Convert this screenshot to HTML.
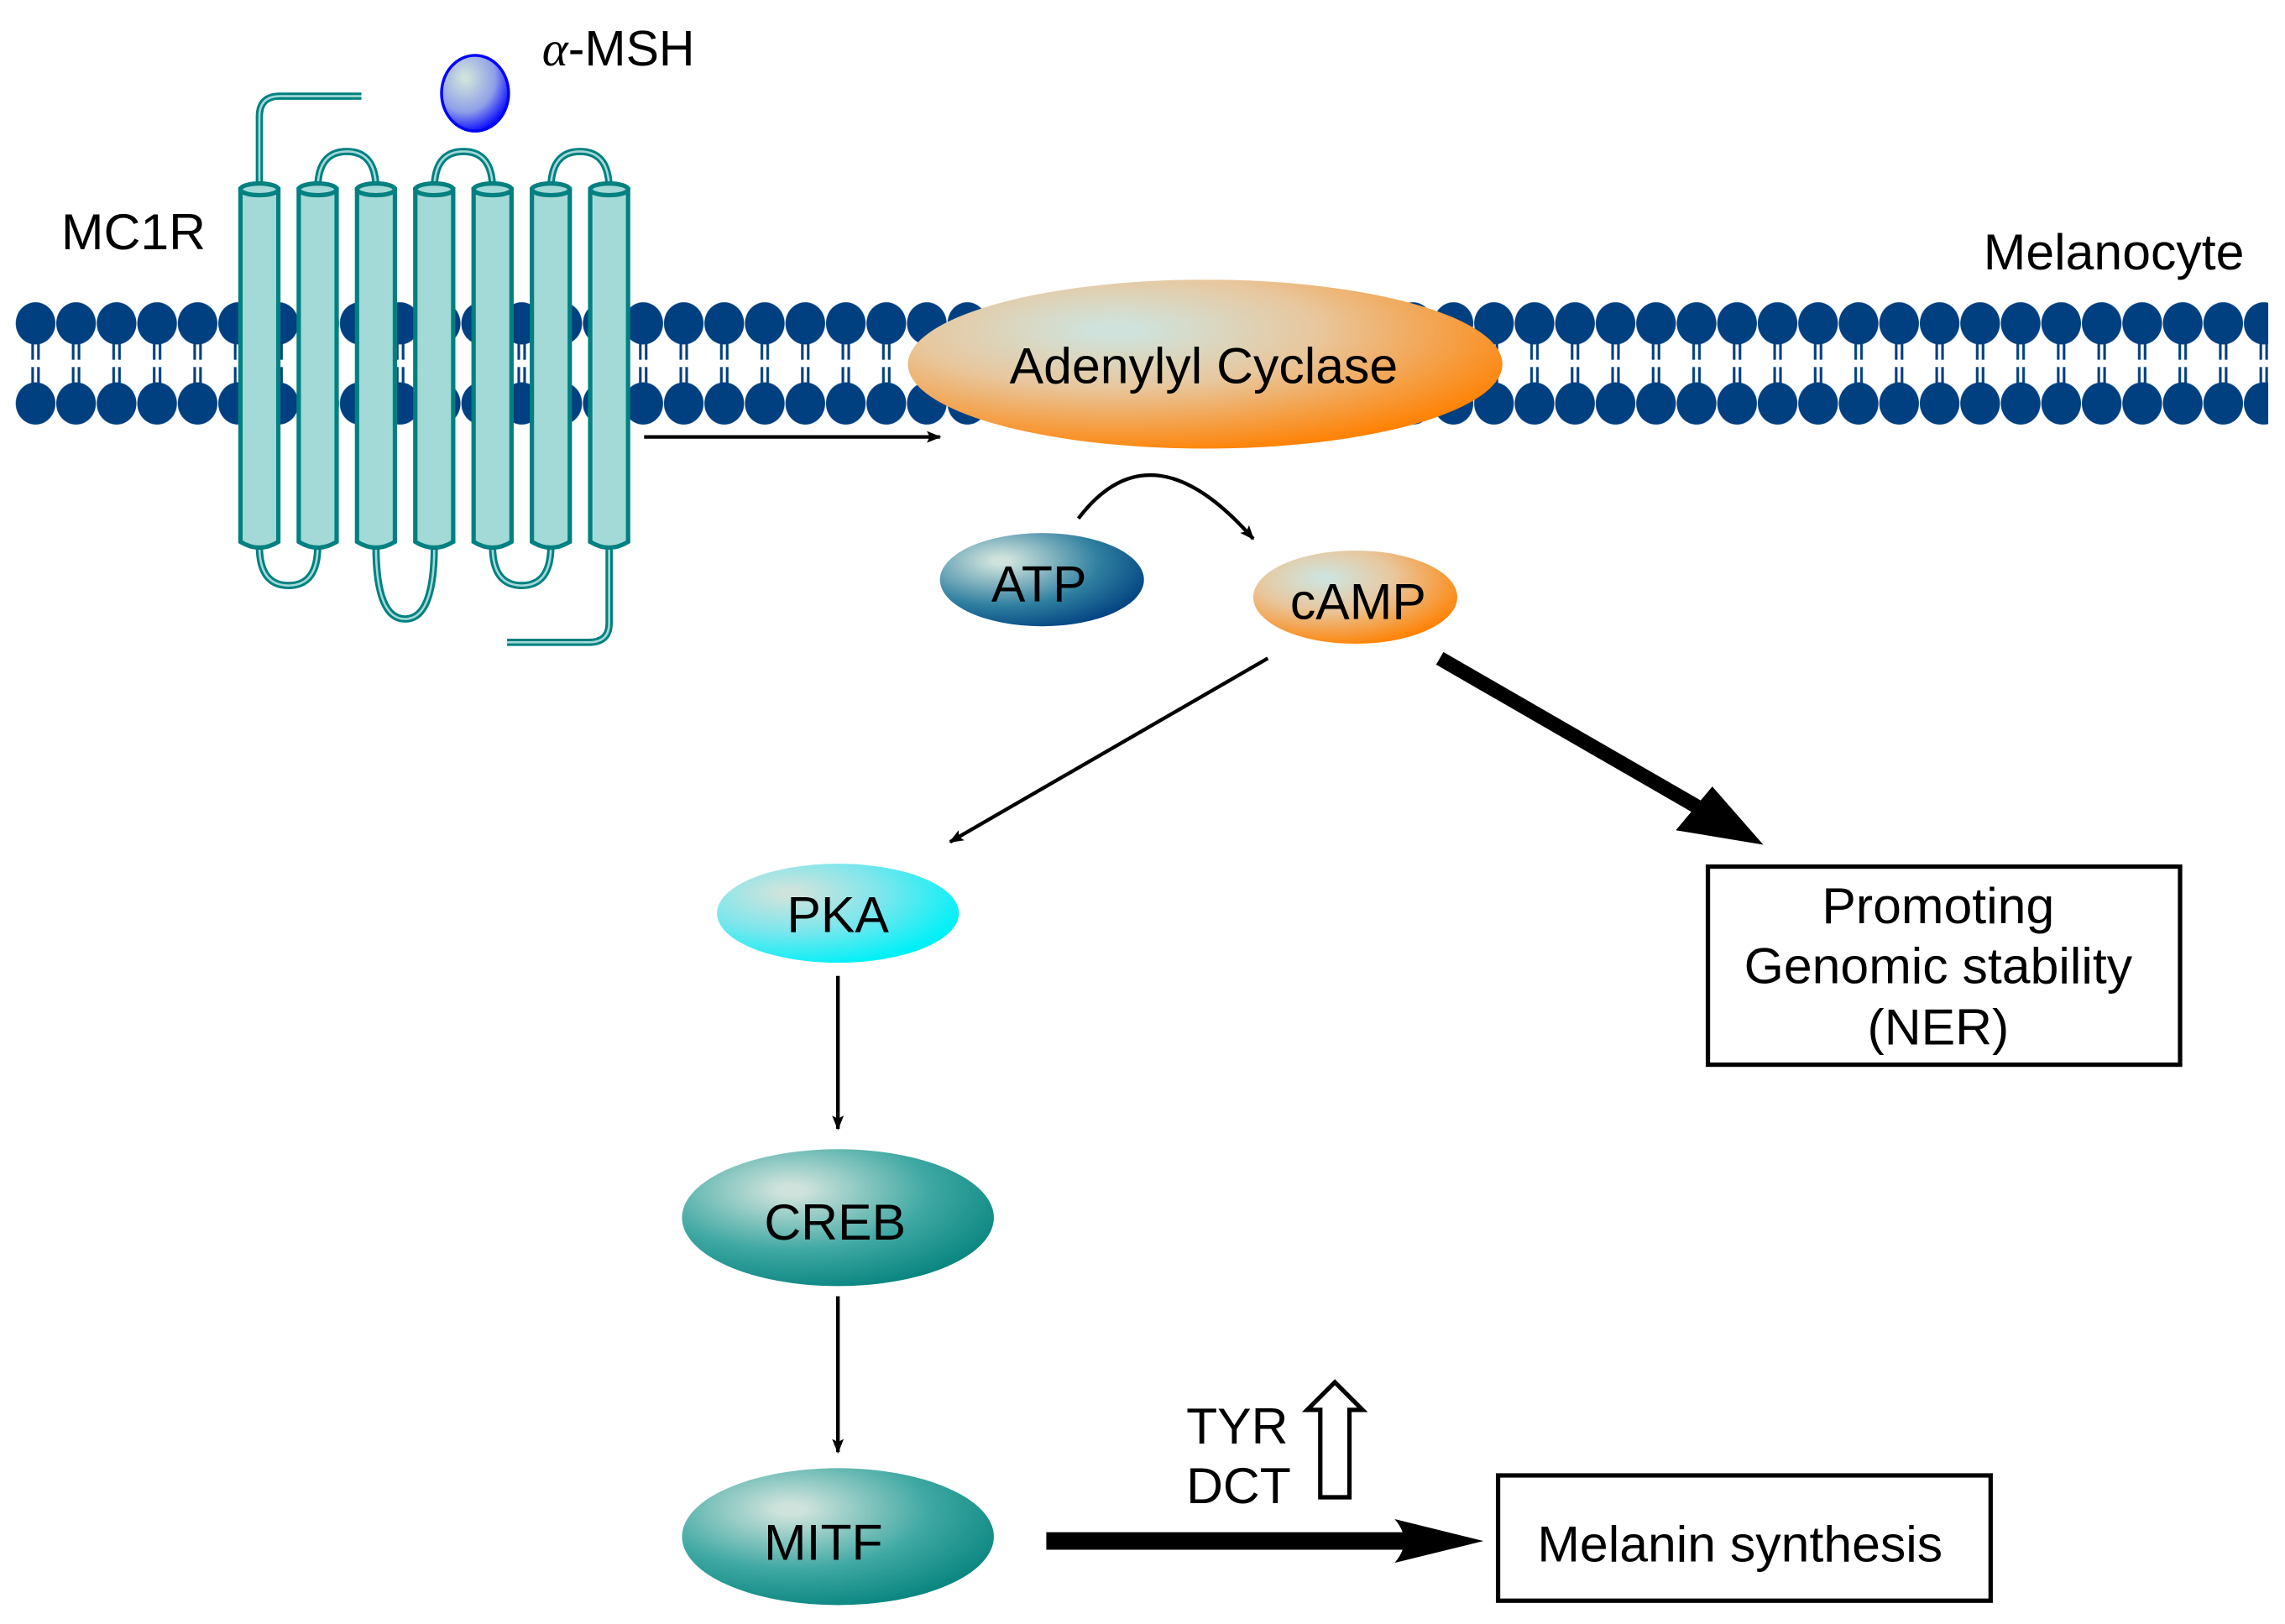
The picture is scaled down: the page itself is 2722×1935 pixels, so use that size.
<!DOCTYPE html>
<html><head><meta charset="utf-8"><style>html,body{margin:0;padding:0;background:#fff}svg{display:block}text{font-family:"Liberation Sans",Arial,sans-serif;fill:#000}</style></head>
<body>
<svg width="2722" height="1935" viewBox="0 0 1568 1115" preserveAspectRatio="none" xmlns="http://www.w3.org/2000/svg">
<defs>
<radialGradient id="og" cx="0.35" cy="0.3" r="0.75"><stop offset="0.05" stop-color="#cfe3dc"/><stop offset="0.45" stop-color="#e8c79e"/><stop offset="1" stop-color="#ff8000"/></radialGradient>
<radialGradient id="bg" cx="0.3" cy="0.3" r="0.8"><stop offset="0.05" stop-color="#cfe3dc"/><stop offset="0.6" stop-color="#2f7fa0"/><stop offset="1" stop-color="#003f80"/></radialGradient>
<radialGradient id="tg" cx="0.35" cy="0.3" r="0.8"><stop offset="0.05" stop-color="#cfe3dc"/><stop offset="0.55" stop-color="#3fa8a3"/><stop offset="1" stop-color="#007f7a"/></radialGradient>
<radialGradient id="cg" cx="0.3" cy="0.3" r="0.75"><stop offset="0.05" stop-color="#cfe3dc"/><stop offset="0.5" stop-color="#7ee6ec"/><stop offset="1" stop-color="#00f0f8"/></radialGradient>
<radialGradient id="mg" cx="0.35" cy="0.3" r="0.75"><stop offset="0.05" stop-color="#cfe3dc"/><stop offset="0.6" stop-color="#8f9fe8"/><stop offset="1" stop-color="#0000ff"/></radialGradient>
<pattern id="lip" x="10.5" y="0" width="27.8" height="400" patternUnits="userSpaceOnUse">
<line x1="11.9" y1="232" x2="11.9" y2="247" stroke="#003f80" stroke-width="1.8"/>
<line x1="15.9" y1="232" x2="15.9" y2="247" stroke="#003f80" stroke-width="1.8"/>
<line x1="11.9" y1="252" x2="11.9" y2="267" stroke="#003f80" stroke-width="1.8"/>
<line x1="15.9" y1="252" x2="15.9" y2="267" stroke="#003f80" stroke-width="1.8"/>
<ellipse cx="13.9" cy="222" rx="13.6" ry="14.5" fill="#003f80"/>
<ellipse cx="13.9" cy="277" rx="13.6" ry="14.5" fill="#003f80"/>
</pattern>
<marker id="ah" markerWidth="10" markerHeight="8" refX="9" refY="4" orient="auto" markerUnits="userSpaceOnUse" viewBox="0 0 10 8"><path d="M0,0 L10,4 L0,8 L2,4 Z" fill="#000"/></marker>
</defs>
<rect x="10.5" y="205" width="1546" height="90" fill="url(#lip)"/>
<g fill="none" stroke="#008080" stroke-width="5">
<path d="M178,130 V80 Q178,66 192,66 H248"/>
<path d="M218,130 Q218,104 238,104 Q258,104 258,130"/>
<path d="M298,130 Q298,104 318,104 Q338,104 338,130"/>
<path d="M378,130 Q378,104 398,104 Q418,104 418,130"/>
<path d="M178,375 Q178,402 198,402 Q218,402 218,375"/>
<path d="M258,375 Q258,425 278,425 Q298,425 298,375"/>
<path d="M338,375 Q338,402 358,402 Q378,402 378,375"/>
<path d="M418,375 V428 Q418,441 404,441 H348"/>
</g>
<g fill="none" stroke="#a3d9d7" stroke-width="1.5">
<path d="M178,130 V80 Q178,66 192,66 H248"/>
<path d="M218,130 Q218,104 238,104 Q258,104 258,130"/>
<path d="M298,130 Q298,104 318,104 Q338,104 338,130"/>
<path d="M378,130 Q378,104 398,104 Q418,104 418,130"/>
<path d="M178,375 Q178,402 198,402 Q218,402 218,375"/>
<path d="M258,375 Q258,425 278,425 Q298,425 298,375"/>
<path d="M338,375 Q338,402 358,402 Q378,402 378,375"/>
<path d="M418,375 V428 Q418,441 404,441 H348"/>
</g>
<g fill="#a3d9d7" stroke="#008080" stroke-width="3">
<path d="M165,130 V372 Q178,380 191,372 V130 Z"/><ellipse cx="178" cy="130" rx="13" ry="4"/>
<path d="M205,130 V372 Q218,380 231,372 V130 Z"/><ellipse cx="218" cy="130" rx="13" ry="4"/>
<path d="M245,130 V372 Q258,380 271,372 V130 Z"/><ellipse cx="258" cy="130" rx="13" ry="4"/>
<path d="M285,130 V372 Q298,380 311,372 V130 Z"/><ellipse cx="298" cy="130" rx="13" ry="4"/>
<path d="M325,130 V372 Q338,380 351,372 V130 Z"/><ellipse cx="338" cy="130" rx="13" ry="4"/>
<path d="M365,130 V372 Q378,380 391,372 V130 Z"/><ellipse cx="378" cy="130" rx="13" ry="4"/>
<path d="M405,130 V372 Q418,380 431,372 V130 Z"/><ellipse cx="418" cy="130" rx="13" ry="4"/>
</g>
<ellipse cx="326" cy="64" rx="23" ry="26" fill="url(#mg)" stroke="#0000ff" stroke-width="2"/>
<text x="372" y="45" font-size="34"><tspan font-family="Liberation Serif,serif" font-style="italic">α</tspan>-MSH</text>
<text x="42" y="171" font-size="35">MC1R</text>
<text x="1540" y="185" font-size="35" text-anchor="end">Melanocyte</text>
<line x1="442" y1="300" x2="645" y2="300" stroke="#000" stroke-width="2.5" marker-end="url(#ah)"/>
<ellipse cx="827" cy="250" rx="204" ry="58" fill="url(#og)"/>
<text x="826" y="263" font-size="35" text-anchor="middle">Adenylyl Cyclase</text>
<path d="M740,356 Q790,290 860,370" fill="none" stroke="#000" stroke-width="2.5" marker-end="url(#ah)"/>
<ellipse cx="715" cy="398" rx="70" ry="32" fill="url(#bg)"/>
<text x="713" y="413" font-size="35" text-anchor="middle">ATP</text>
<ellipse cx="930" cy="410" rx="70" ry="32" fill="url(#og)"/>
<text x="932" y="425" font-size="35" text-anchor="middle">cAMP</text>
<line x1="870" y1="452" x2="652" y2="578" stroke="#000" stroke-width="2.5" marker-end="url(#ah)"/>
<line x1="988" y1="452" x2="1170" y2="557" stroke="#000" stroke-width="10"/>
<path d="M1210,580 L1150,570 L1175,540 Z" fill="#000"/>
<rect x="1172" y="595" width="324" height="136" fill="none" stroke="#000" stroke-width="3"/>
<text x="1330" y="634" font-size="35" text-anchor="middle">Promoting</text>
<text x="1330" y="675" font-size="35" text-anchor="middle">Genomic stability</text>
<text x="1330" y="717" font-size="35" text-anchor="middle">(NER)</text>
<ellipse cx="575" cy="627" rx="83" ry="34" fill="url(#cg)"/>
<text x="575" y="640" font-size="35" text-anchor="middle">PKA</text>
<line x1="575" y1="670" x2="575" y2="775" stroke="#000" stroke-width="2.5" marker-end="url(#ah)"/>
<ellipse cx="575" cy="836" rx="107" ry="47" fill="url(#tg)"/>
<text x="573" y="851" font-size="35" text-anchor="middle">CREB</text>
<line x1="575" y1="890" x2="575" y2="997" stroke="#000" stroke-width="2.5" marker-end="url(#ah)"/>
<ellipse cx="575" cy="1055" rx="107" ry="47" fill="url(#tg)"/>
<text x="565" y="1071" font-size="35" text-anchor="middle">MITF</text>
<line x1="718" y1="1058" x2="970" y2="1058" stroke="#000" stroke-width="12"/>
<path d="M1018,1058 L957,1043 Q970,1058 957,1073 Z" fill="#000"/>
<text x="814" y="991" font-size="35">TYR</text>
<text x="814" y="1032" font-size="35">DCT</text>
<path d="M906,1028 V968 H897 L916,949 L935,968 H926 V1028 Z" fill="#fff" stroke="#000" stroke-width="3"/>
<rect x="1028" y="1013" width="338" height="86" fill="none" stroke="#000" stroke-width="3"/>
<text x="1194" y="1072" font-size="35" text-anchor="middle">Melanin synthesis</text>
</svg>
</body></html>
